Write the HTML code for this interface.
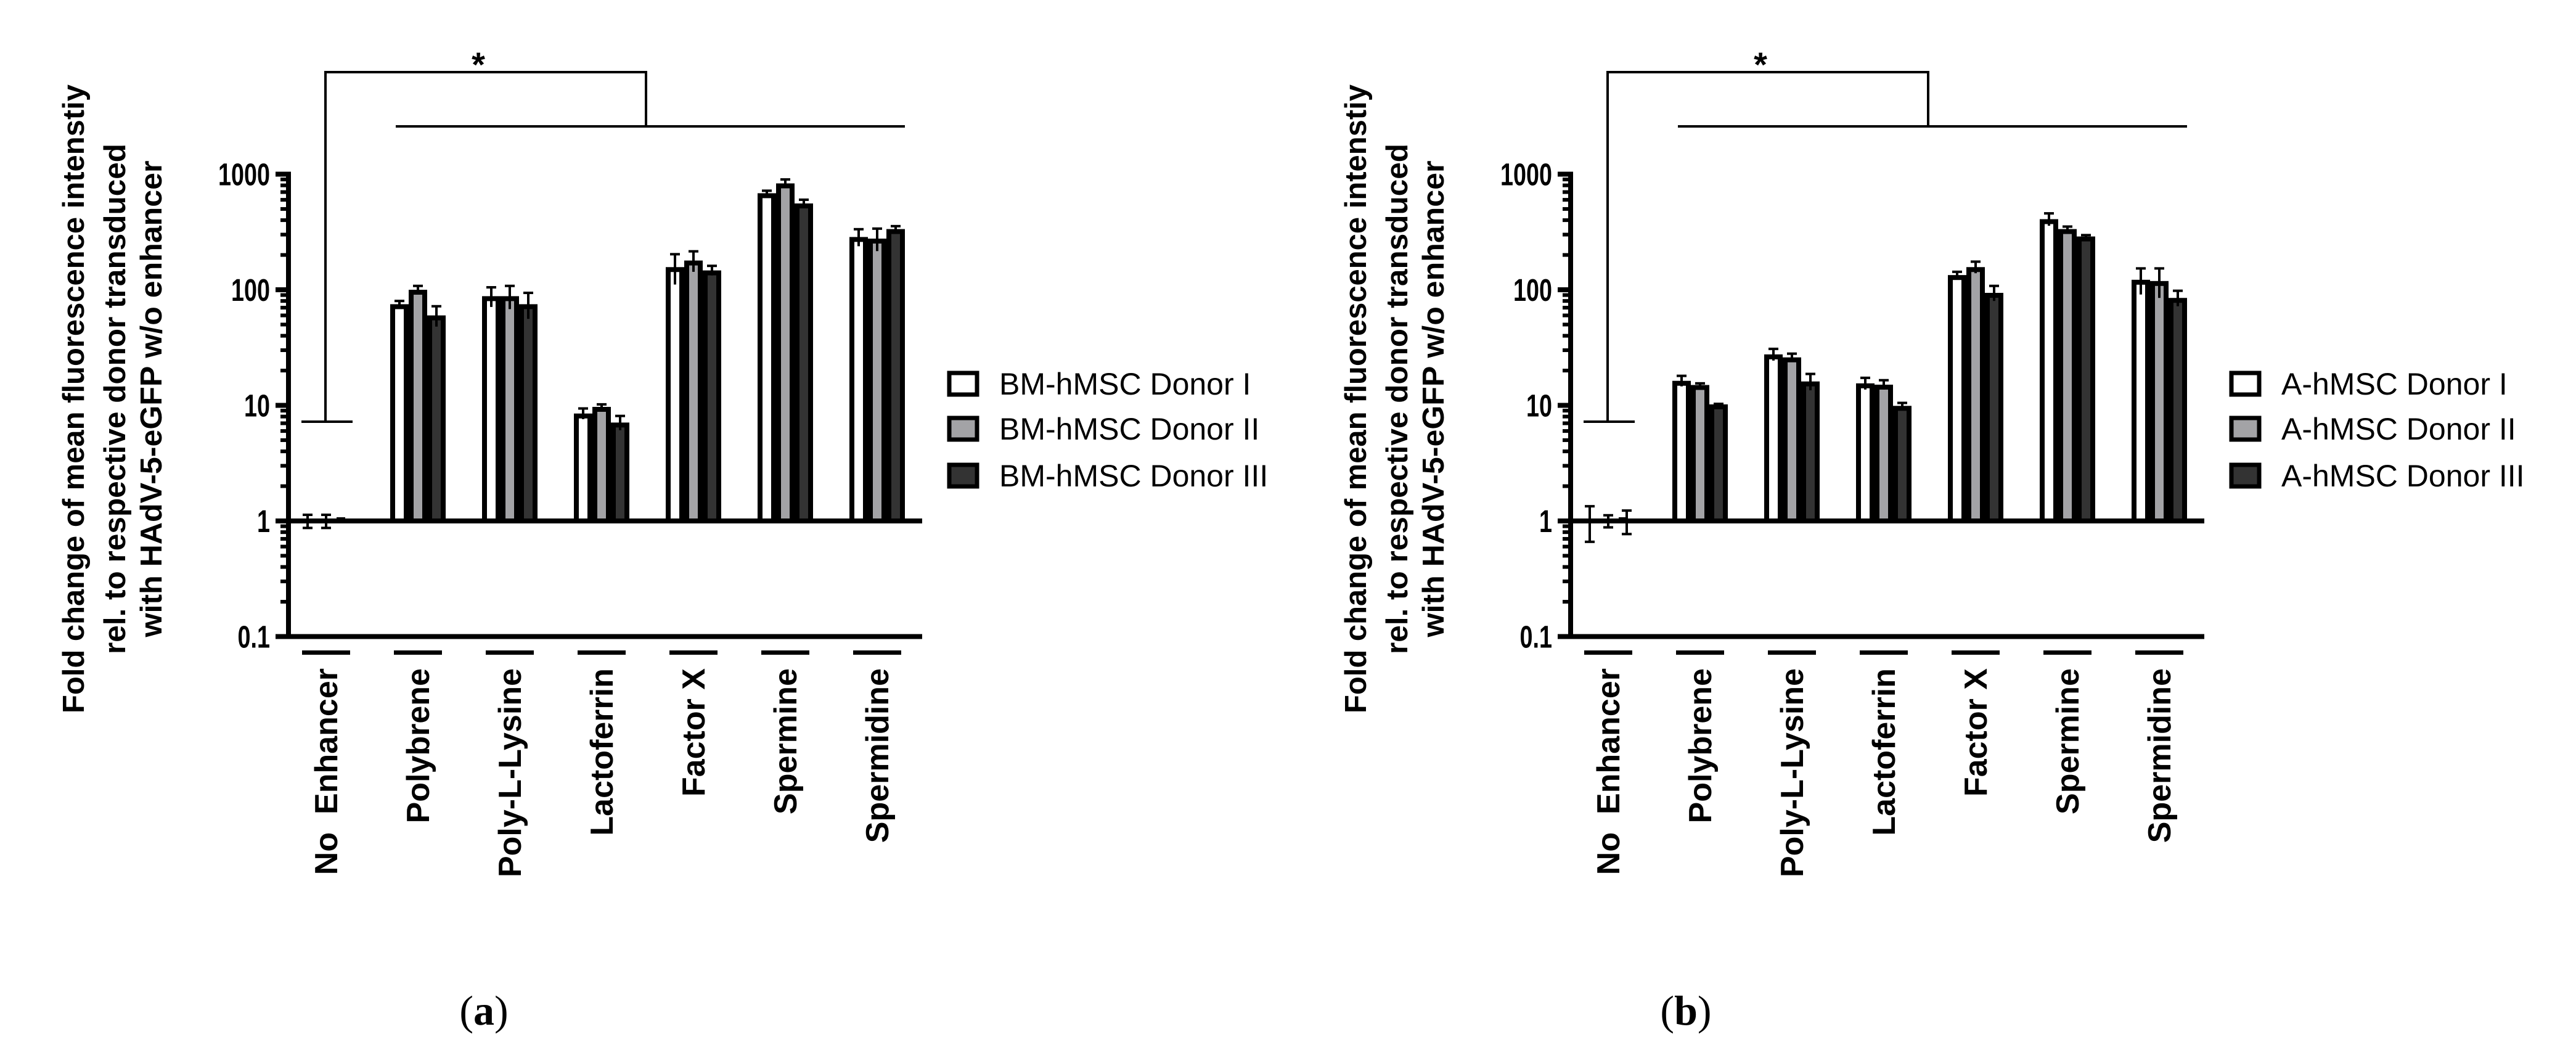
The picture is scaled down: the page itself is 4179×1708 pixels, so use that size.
<!DOCTYPE html>
<html><head><meta charset="utf-8"><style>
html,body{margin:0;padding:0;background:#fff;}
svg{display:block;}
text{font-family:"Liberation Sans",Arial,sans-serif;fill:#000;}
.pre{white-space:pre;}
</style></head><body>
<svg id="chart" width="4179" height="1708" viewBox="0 0 4179 1708" xmlns="http://www.w3.org/2000/svg"></svg>
<script>
const categories = ["No  Enhancer","Polybrene","Poly-L-Lysine","Lactoferrin","Factor X","Spermine","Spermidine"];
const yTickValues = [1000,100,10,1,0.1];
const yTickLabels = ["1000","100","10","1","0.1"];
const seriesNamesA = ["BM-hMSC Donor I","BM-hMSC Donor II","BM-hMSC Donor III"];
const seriesNamesB = ["A-hMSC Donor I","A-hMSC Donor II","A-hMSC Donor III"];
// panel a: mean values and upper error-bar ends
const a1 = [1, 75, 88, 8.5, 157, 684, 286];
const a2 = [1, 100, 88, 9.7, 179, 832, 277];
const a3 = [1, 60, 75, 7.1, 147, 558, 335];
const a1Up = [1.13, 80, 105, 9.4, 203, 719, 334];
const a2Up = [1.13, 108, 108, 10.2, 215, 900, 338];
const a3Up = [1.02, 72, 94, 8.1, 161, 601, 355];
// panel b
const b1 = [1, 16.3, 27.6, 15.5, 134, 408, 122];
const b2 = [1, 15, 26, 15.1, 157, 335, 119];
const b3 = [1, 10.2, 16.1, 9.9, 94, 289, 85];
const b1Up = [1.34, 18, 30.8, 17.3, 143, 458, 153];
const b2Up = [1.12, 15.5, 28, 16.5, 175, 352, 153];
const b3Up = [1.23, 10.3, 18.7, 10.5, 108, 297, 98];

const NS = "http://www.w3.org/2000/svg";
const svg = document.getElementById('chart');
function mk(tag, attrs, parent){
  const e = document.createElementNS(NS, tag);
  for (const k in attrs) e.setAttribute(k, attrs[k]);
  (parent||svg).appendChild(e);
  return e;
}
const fills = ["#ffffff","#a3a3a6","#333333"];

function panel(dx, name, vals, ups, names, letter, letterX){
  const g = mk('g', {});
  
  
  const Y1 = 845, DEC = 187.5;
  const yS = v => Y1 - DEC*Math.log10(v);
  const xC = i => dx + 529 + i*149;
  const axX = dx + 468;

  for (let c=0;c<categories.length;c++){
    for (let s=0;s<3;s++){
      const v = vals[s][c];
      const x0 = xC(c) - 45 + s*30;
      const yt = yS(v);
      const bg = mk('g', {}, g);
      
      
      if (Y1 - yt > 2){
        mk('rect', {x:x0, y:yt, width:30, height:Y1-yt, fill:'#000'}, bg);
        mk('rect', {x:x0+8, y:yt+8, width:14, height:Math.max(0,Y1-yt-8), fill:fills[s]}, bg);
      } else if (s===2) {
        mk('rect', {x:x0+2, y:Y1-6, width:14, height:10, fill:'#000'}, bg);
      }
      const up = ups[s][c];
      const sd = up - v;
      const lo = Math.max(0.1, v - sd);
      if (sd > 0.001){
        const cx = x0 + 15;
        const eg = mk('g', {stroke:'#000','stroke-width':4}, g);
        
        
        mk('line', {x1:cx, y1:yS(up), x2:cx, y2:yS(lo)}, eg);
        mk('line', {x1:cx-8, y1:yS(up), x2:cx+8, y2:yS(up)}, eg);
        if (c===0) mk('line', {x1:cx-8, y1:yS(lo), x2:cx+8, y2:yS(lo)}, eg);
      }
    }
  }

  const ax = mk('g', {fill:'#000'}, g);
  
  
  mk('rect', {x:axX-4, y:yS(1000)-4, width:8, height:yS(0.1)-yS(1000)+8}, ax);
  for (let d=-1; d<3; d++){
    for (let m=2;m<=9;m++){
      const y = yS(m*Math.pow(10,d));
      mk('rect', {x:axX-13, y:y-3, width:13, height:6}, ax);
    }
  }
  for (let i=0;i<yTickValues.length;i++){
    const y = yS(yTickValues[i]);
    mk('rect', {x:axX-21, y:y-4, width:21, height:8}, ax);
    const tg = mk('g', {transform:`translate(${axX-30},${y+18}) scale(0.74,1)`}, ax);
    const t = mk('text', {'text-anchor':'end','font-size':51,'font-weight':'bold'}, tg);
    t.textContent = yTickLabels[i];
    
    
  }
  const xa = mk('g', {fill:'#000'}, g);
  
  
  mk('rect', {x:axX-4, y:Y1-4, width:dx+1500-axX, height:8}, xa);
  mk('rect', {x:axX-4, y:yS(0.1)-4, width:dx+1500-axX, height:8}, xa);
  for (let c=0;c<categories.length;c++){
    mk('rect', {x:xC(c)-39, y:1055, width:78, height:7}, xa);
    const t = mk('text', {'text-anchor':'end','font-size':52,'font-weight':'bold','class':'pre',
      transform:`translate(${xC(c)+18},1084) rotate(-90)`}, xa);
    t.textContent = categories[c];
    
    
  }

  const titles = ["Fold change of mean fluorescence intenstiy","rel. to respective donor transduced","with HAdV-5-eGFP w/o enhancer"];
  const tx = [136, 203, 262], tl = [1020, 828, 773];
  const yt = mk('g', {}, g);
  
  
  for (let i=0;i<3;i++){
    const t = mk('text', {'text-anchor':'middle','font-size':49,'font-weight':'bold',
      transform:`translate(${dx+tx[i]},647) rotate(-90)`, textLength:tl[i], lengthAdjust:'spacingAndGlyphs'}, yt);
    t.textContent = titles[i];
  }

  const br = mk('g', {stroke:'#000','stroke-width':4, fill:'none'}, g);
  
  
  mk('polyline', {points:`${dx+489},684 ${dx+572},684`}, br);
  mk('polyline', {points:`${dx+528},684 ${dx+528},117 ${dx+1048},117 ${dx+1048},205`}, br);
  mk('polyline', {points:`${dx+642},205 ${dx+1468},205`}, br);
  const st = mk('text', {x:dx+776, y:124, 'text-anchor':'middle','font-size':56,'font-weight':'bold'}, g);
  st.textContent = '*';
  
  

  const lg = mk('g', {}, g);
  
  
  const ly = [622, 695, 771];
  for (let s=0;s<3;s++){
    const e = mk('g', {}, lg);
    
    
    mk('rect', {x:dx+1540, y:ly[s]-17, width:45, height:35, fill:fills[s], stroke:'#000','stroke-width':7}, e);
    const t = mk('text', {x:dx+1621, y:ly[s]+18, 'font-size':50}, e);
    t.textContent = names[s];
  }

  const pl = mk('text', {x:letterX, y:1662, 'text-anchor':'middle','font-size':68,
    style:'font-family:"Liberation Serif",serif'}, svg);
  pl.innerHTML = '(<tspan font-weight="bold">' + letter + '</tspan>)';
  
  
}

panel(0, 'panel-a', [a1,a2,a3], [a1Up,a2Up,a3Up], seriesNamesA, 'a', 785);
panel(2080, 'panel-b', [b1,b2,b3], [b1Up,b2Up,b3Up], seriesNamesB, 'b', 2735);
</script>
</body></html>
